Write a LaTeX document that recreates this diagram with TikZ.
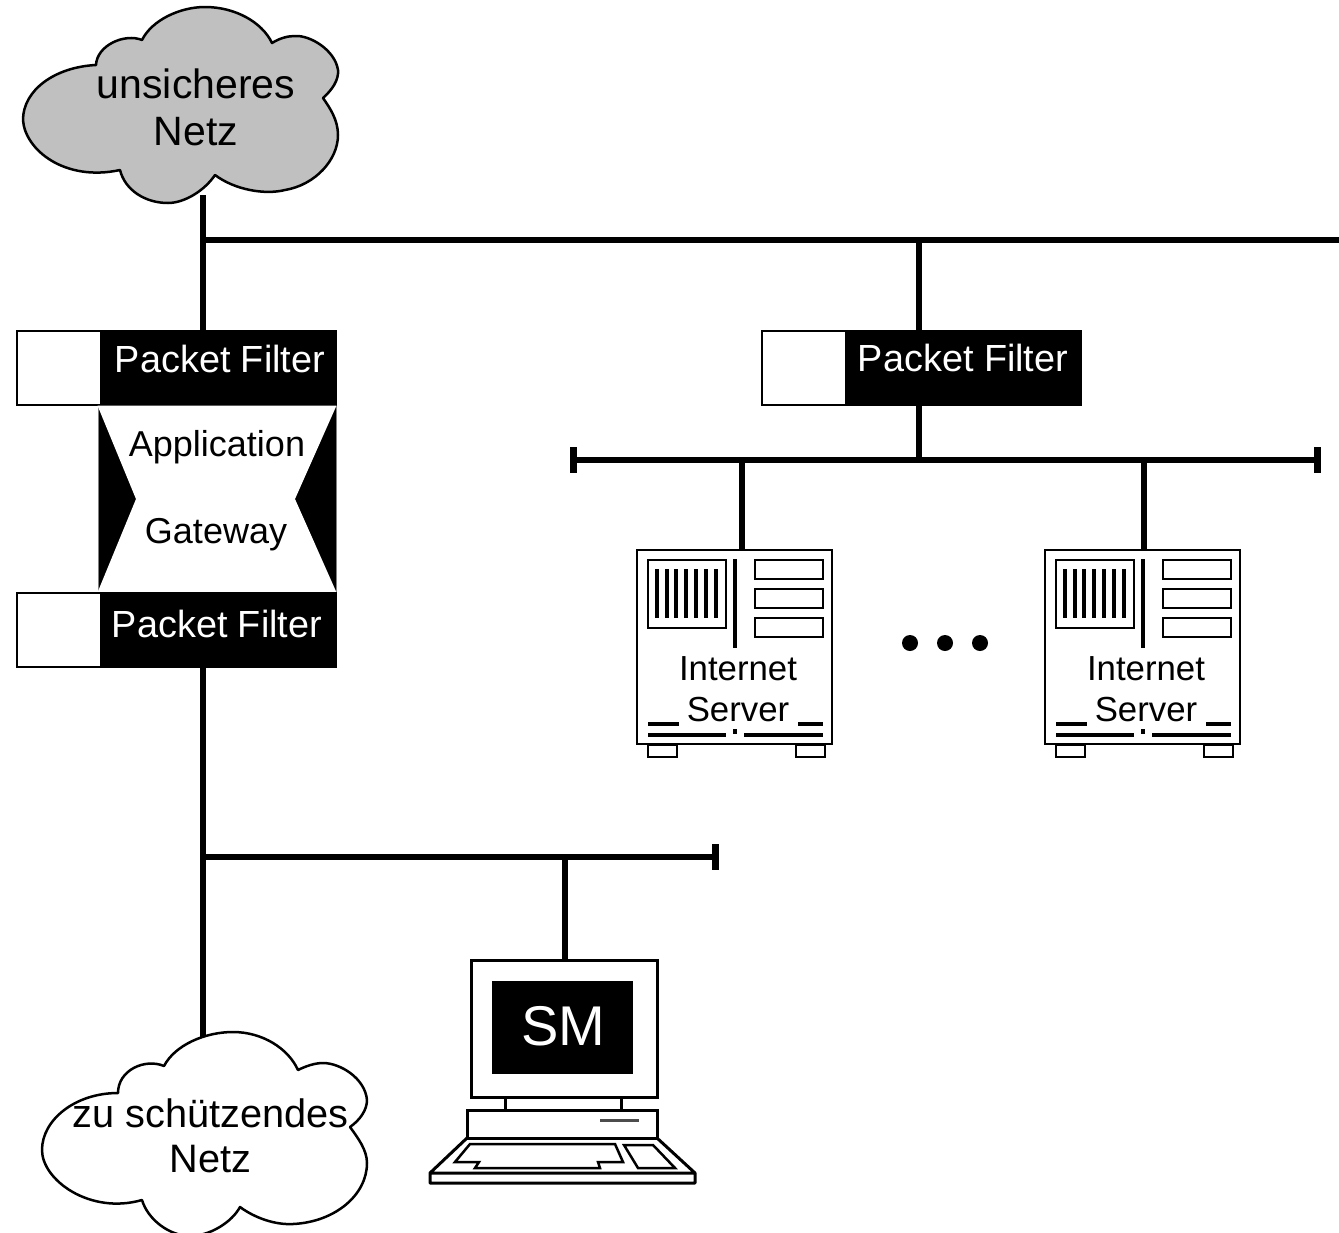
\documentclass[tikz,border=0pt]{standalone}
\usepackage{fontspec}
\setmainfont{Liberation Sans}
\usetikzlibrary{positioning,arrows.meta}
\definecolor{cloudgray}{HTML}{C0C0C0}
\newcommand{\fwsize}[1]{\fontsize{#1}{#1}\selectfont}
\tikzstyle{busstyle}=[line width=6pt]
\tikzstyle{endbusstyle}=[line width=6pt,{Rectangle[width=26pt,length=7pt]}-{Rectangle[width=26pt,length=7pt]}]
\tikzstyle{thinstyle}=[line width=2.5pt]
\tikzstyle{cloudstyle}=[line width=2.5pt,draw=black,line join=round]
\tikzstyle{filterstyle}=[shape=rectangle,fill=black,draw=black,line width=1pt,inner sep=0pt,minimum height=75pt]
\tikzstyle{portstyle}=[shape=rectangle,fill=white,draw=black,line width=2pt,inner sep=0pt,minimum width=84pt,minimum height=74pt]
\tikzstyle{serverstyle}=[shape=rectangle,fill=white,draw=black,line width=2.5pt,inner sep=0pt,minimum width=195pt,minimum height=194pt]
\tikzstyle{labelstyle}=[anchor=base,inner sep=0pt]
\tikzstyle{cloudtextstyle}=[align=center,inner sep=0pt]
\newcommand{\fwfilter}[5]{ \draw (#2,#3) node [style=filterstyle,minimum width=234pt] (#1) {}; \node [style=portstyle,left=0pt of #1] (#1Port) {}; \draw (#4,#5) node [style=labelstyle,text=white,font=\fwsize{37.8}] (#1Text) {Packet Filter}; }
\newcommand{\fwserver}[3]{ \begin{scope}[shift={(#2,#3)}]
  \draw (97.5,97) node [style=serverstyle] (#1) {};
  \draw [thinstyle] (11,10) rectangle (89,78);
  \foreach \barx in {20,30,39,49,59,69,79} { \draw [line width=4pt] (\barx,19) -- (\barx,68); }
  \draw [line width=4pt] (98,9) -- (98,98);
  \foreach \boxy in {10,39,68} { \draw [thinstyle] (118,\boxy) rectangle (186,\boxy+19); }
  \draw [line width=3.5pt] (11,174) -- (42,174) (161,174) -- (186,174);
  \draw [line width=3.5pt] (11,185) -- (89,185) (107,185) -- (186,185) (98,179) -- (98,184);
  \draw [thinstyle] (11,195) rectangle (40,207) (159,195) rectangle (188,207);
  \draw (101,130) node [style=labelstyle,font=\fwsize{34.8}] (#1TextA) {Internet};
  \draw (101,171.5) node [style=labelstyle,font=\fwsize{34.8}] (#1TextB) {Server};
\end{scope} }

\begin{document}
\begin{tikzpicture}[x=1pt,y=-1pt]
\useasboundingbox (0,0) rectangle (1339,1232);
\clip (0,0) rectangle (1339,1232);

\coordinate (cloudAfoot) at (203,195);
\coordinate (topjoin) at (203,240);
\coordinate (topend) at (1339,240);
\coordinate (dmzjoin) at (919,240);
\coordinate (dmzbusL) at (570,460);
\coordinate (dmzbusR) at (1321,460);
\coordinate (dmzmid) at (919,460);
\coordinate (serverAjoin) at (742,460);
\coordinate (serverBjoin) at (1144,460);
\coordinate (lanjoin) at (203,857);
\coordinate (lanend) at (719,857);
\coordinate (smjoin) at (565,857);
\coordinate (cloudBtop) at (203,1040);

% buses
\draw [style=busstyle] (cloudAfoot) -- (topjoin);
\draw [style=busstyle] (topjoin) -- (topend);
\draw [style=busstyle] (dmzmid) -- (dmzjoin);
\draw [style=endbusstyle] (dmzbusL) -- (dmzbusR);
\draw [style=busstyle,{Rectangle[width=26pt,length=7pt]}-] (lanend) -- (lanjoin);
\draw [style=busstyle] (lanjoin) -- (cloudBtop);

% clouds
\draw [style=cloudstyle,fill=cloudgray] (96,65) .. controls (55,67) and (23,90) .. (23,120) .. controls (25,150) and (65,182) .. (120,170) .. controls (125,190) and (145,203) .. (168,203) .. controls (185,203) and (205,190) .. (215,175) .. controls (235,190) and (265,195) .. (285,190) .. controls (315,185) and (338,160) .. (338,135) .. controls (338,120) and (330,108) .. (323,98) .. controls (332,90) and (339,80) .. (338,70) .. controls (335,50) and (310,35) .. (295,36) .. controls (288,36) and (280,38) .. (272,43) .. controls (262,22) and (235,7) .. (205,7) .. controls (180,7) and (152,20) .. (142,40) .. controls (125,33) and (97,45) .. (96,65) -- cycle;
\draw [style=cloudstyle,fill=white] (118,1093) .. controls (75,1093) and (42,1120) .. (42,1150) .. controls (42,1180) and (90,1215) .. (142,1200) .. controls (148,1220) and (170,1236) .. (190,1236) .. controls (210,1236) and (232,1222) .. (240,1207) .. controls (255,1218) and (275,1225) .. (293,1224) .. controls (335,1222) and (367,1195) .. (367,1163) .. controls (367,1150) and (358,1138) .. (350,1127) .. controls (360,1120) and (367,1110) .. (367,1100) .. controls (365,1078) and (340,1063) .. (323,1063) .. controls (315,1063) and (306,1066) .. (298,1070) .. controls (288,1048) and (262,1032) .. (233,1032) .. controls (205,1032) and (175,1045) .. (164,1066) .. controls (145,1058) and (118,1070) .. (118,1093) -- cycle;
\draw (196,107.5) node [style=cloudtextstyle,font=\fontsize{41}{47}\selectfont] (cloudA) {unsicheres\\Netz};
\draw (210.5,1135.5) node [style=cloudtextstyle,font=\fontsize{39.7}{45}\selectfont] (cloudB) {zu schützendes\\Netz};

% firewall
\fwfilter{filterA}{219}{368}{220}{372} %
\draw (217,499) node [shape=rectangle,fill=black,draw=gray,line width=1pt,inner sep=0pt,minimum width=238pt,minimum height=186pt] (gateway) {};
\draw [fill=white,draw=none] (gateway.north west) -- (gateway.north east) -- (295,499) -- (gateway.south east) -- (gateway.south west) -- (136,499) -- cycle;
\draw (217,456) node [style=labelstyle,font=\fwsize{36}] (gatewayA) {Application};
\draw (216,543) node [style=labelstyle,font=\fwsize{36}] (gatewayB) {Gateway};
\fwfilter{filterB}{219}{630}{217}{637} %
\fwfilter{filterC}{964}{368}{963}{371} %

\draw [style=busstyle] (topjoin) -- (topjoin |- filterA.north);
\draw [style=busstyle] (lanjoin) -- (lanjoin |- filterB.south);
\draw [style=busstyle] (dmzjoin) -- (dmzjoin |- filterC.north);
\draw [style=busstyle] (dmzmid) -- (dmzmid |- filterC.south);

% servers
\fwserver{serverA}{637}{550} %
\fwserver{serverB}{1045}{550} %
\draw [style=busstyle] (serverAjoin) -- (serverAjoin |- serverA.north);
\draw [style=busstyle] (serverBjoin) -- (serverBjoin |- serverB.north);
\foreach \dotx in {910,945,980} { \fill (\dotx,643) circle (8pt); }

% management station
\draw (564,1028.5) node [shape=rectangle,fill=white,draw=black,line width=3pt,inner sep=0pt,minimum width=186pt,minimum height=137pt] (monitor) {};
\draw (562.5,1027.5) node [shape=rectangle,fill=black,inner sep=0pt,minimum width=141pt,minimum height=93pt] (screen) {};
\draw (563,1045.5) node [style=labelstyle,text=white,font=\fwsize{56}] (screenText) {SM};
\draw [line width=3pt] (505,1097) -- (505,1110) (621,1097) -- (621,1110);
\draw [line width=3pt] (467,1110) rectangle (657,1138);
\draw [line width=3pt,draw=black!70] (600,1120) -- (639,1120);
\draw [line width=3pt,line join=round] (467,1138) -- (430,1173) -- (430,1183) -- (695,1183) -- (695,1173) -- (657,1138) (430,1173) -- (695,1173);
\draw [thinstyle] (470,1144) -- (615,1144) -- (623,1162) -- (598,1162) -- (600,1168) -- (475,1168) -- (479,1162) -- (455,1162) -- cycle;
\draw [thinstyle] (624,1145) -- (653,1145) -- (675,1168) -- (638,1168) -- cycle;
\draw [style=busstyle] (smjoin) -- (smjoin |- monitor.north);
\end{tikzpicture}
\end{document}
